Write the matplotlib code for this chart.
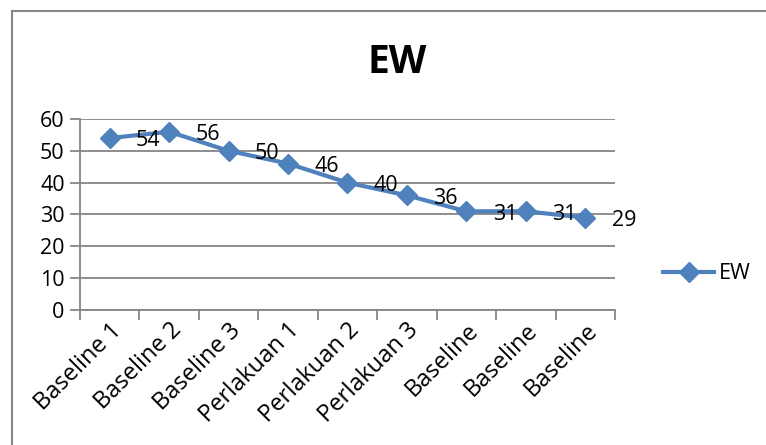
import matplotlib.pyplot as plt
from matplotlib.lines import Line2D

categories = ['Baseline 1', 'Baseline 2', 'Baseline 3', 'Perlakuan 1', 'Perlakuan 2',
              'Perlakuan 3', 'Baseline', 'Baseline', 'Baseline']
ew = [54, 56, 50, 46, 40, 36, 31, 31, 29]

plt.rcParams['font.family'] = ['Open Sans', 'DejaVu Sans']
blue = '#4F81BD'
grey = '#868686'

fig = plt.figure(figsize=(7.66, 4.45), dpi=100)
ax = fig.add_axes([0.1044, 0.3034, 0.6985, 0.4292])

x = list(range(len(categories)))
ax.plot(x, ew, color=blue, lw=3, marker='D', markersize=10, label='EW', zorder=3)
for xi, v in zip(x, ew):
    ax.annotate(str(v), (xi, v), xytext=(19, -2), textcoords='offset points',
                ha='left', va='center', fontsize=15.5)

ax.set_xlim(-0.5, len(categories) - 0.5)
ax.set_ylim(0, 60)
ax.set_yticks(range(0, 61, 10))
ax.yaxis.grid(True, color=grey, lw=1.3)
ax.set_axisbelow(True)

# category boundaries carry the tick marks, centres carry the labels
ax.set_xticks([i - 0.5 for i in range(len(categories) + 1)])
ax.set_xticklabels([])
ax.set_xticks(x, minor=True)
ax.set_xticklabels(categories, minor=True, rotation=45, ha='right',
                   rotation_mode='anchor', fontsize=17)
ax.tick_params(axis='x', which='major', length=7, color=grey, width=1.3)
ax.tick_params(axis='x', which='minor', length=0, pad=6)
ax.tick_params(axis='y', length=7, color=grey, width=1.3, labelsize=15.5, pad=4)

for s in ['top', 'right']:
    ax.spines[s].set_visible(False)
for s in ['left', 'bottom']:
    ax.spines[s].set_color(grey)
    ax.spines[s].set_linewidth(1.3)

fig.text(0.518, 0.86, 'EW', fontsize=28, fontweight='bold', ha='center', va='center')

fig.legend(handles=[Line2D([], [], color=blue, lw=3, marker='D', markersize=10)],
           labels=['EW'], loc='center left', bbox_to_anchor=(0.84, 0.385),
           frameon=False, fontsize=15.5, handlelength=2.4, handletextpad=0.2)

# outer chart border
fig.add_artist(Line2D([12 / 766, 1], [1 - 11 / 445] * 2, color=grey, lw=1.5))
fig.add_artist(Line2D([12 / 766] * 2, [0, 1 - 11 / 445], color=grey, lw=1.5))

fig.savefig('out.png', dpi=100)
